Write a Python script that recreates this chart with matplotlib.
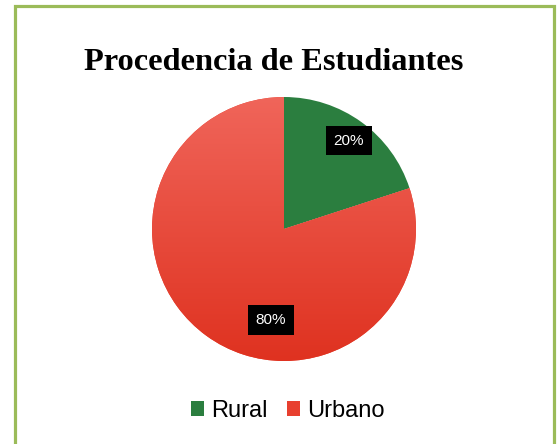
import matplotlib
matplotlib.use("Agg")
import matplotlib.pyplot as plt
import numpy as np
from matplotlib.patches import Rectangle
from matplotlib.colors import LinearSegmentedColormap

categories = ["Rural", "Urbano"]
values = [20, 80]
labels_pct = ["20%", "80%"]
title = "Procedencia de Estudiantes"

W, H = 558, 444
fig = plt.figure(figsize=(W / 100, H / 100), dpi=100)
fig.patch.set_facecolor("white")

# border
fig.patches.append(Rectangle((14.5 / W, -0.05), (553.5 - 14.5) / W, 1.05 - 6 / H,
                             transform=fig.transFigure, fill=False,
                             edgecolor="#9BBB59", linewidth=2.3))

cx, cy, r = 284, 229, 132
ax = fig.add_axes([(cx - r) / W, (H - cy - r) / H, 2 * r / W, 2 * r / H])

green = "#2B7E3F"
red = "#E8402F"
wedges, texts, autotexts = ax.pie(values, colors=[green, red], startangle=90,
                                  counterclock=False, autopct="%1.0f%%",
                                  pctdistance=0.8,
                                  textprops=dict(color="white", fontsize=11,
                                                 family="Liberation Sans"))
ax.set_xlim(-1, 1)
ax.set_ylim(-1, 1)
ax.set_aspect("auto")

# gradient for urbano
cmap = LinearSegmentedColormap.from_list("g", ["#DF3220", "#F0655A"])
grad = np.linspace(0, 1, 256).reshape(-1, 1)
im = ax.imshow(grad, extent=(-1, 1, -1, 1), origin="lower", cmap=cmap,
               aspect="auto", zorder=wedges[1].get_zorder() + 0.1)
im.set_clip_path(wedges[1])

positions = [(0.49, 0.67), (-0.10, -0.69)]
for t, pos, lab in zip(autotexts, positions, labels_pct):
    t.set_text(lab)
    t.set_position(pos)
    t.set_zorder(5)
    t.set_bbox(dict(facecolor="black", edgecolor="none", boxstyle="square,pad=0.5"))

fig.text(274 / W, 1 - 62 / H, title, ha="center", va="center",
         fontsize=23.3, fontweight="bold", family="Liberation Serif")

leg = fig.legend(wedges, categories, loc="center", bbox_to_anchor=(288 / W, 1 - 411 / H),
                 ncol=2, frameon=False, handlelength=0.55, handleheight=0.6,
                 handletextpad=0.3, columnspacing=0.8,
                 prop=dict(family="Liberation Sans", size=17))
leg.legend_handles[1].set_facecolor("#E8402F")

fig.savefig("out.png", dpi=100, facecolor="white")
